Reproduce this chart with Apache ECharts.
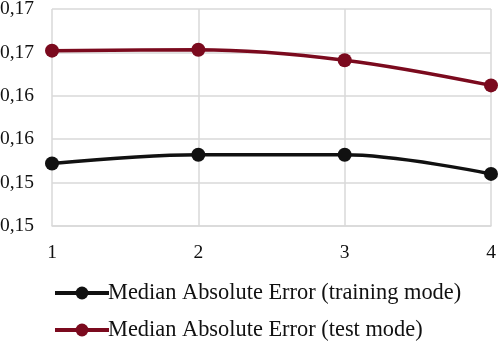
<!DOCTYPE html>
<html><head><meta charset="utf-8">
<script src="https://cdn.jsdelivr.net/npm/echarts@6/dist/echarts.min.js"></script>
<style>html,body{margin:0;padding:0;background:#fff}#c{width:498px;height:341px}</style>
</head><body><div id="c"></div>
<script>
const categories = ["1", "2", "3", "4"];
const trainingValues = [0.1522, 0.1532, 0.1532, 0.1510];
const testValues = [0.1652, 0.1653, 0.1641, 0.1612];
const yTickLabels = ["0,15", "0,15", "0,16", "0,16", "0,17", "0,17"];
const seriesNames = ["Median Absolute Error (training mode)", "Median Absolute Error (test mode)"];

const font = "'Liberation Serif', 'Times New Roman', serif";
const chart = echarts.init(document.getElementById('c'));
const legendBase = {
  left: 48, itemWidth: 54, itemHeight: 16,
  lineStyle: { width: 4 },
  textStyle: { fontSize: 22.4, fontFamily: font, color: '#111', padding: [0, 0, 0, -6] }
};
chart.setOption({
  animation: false,
  textStyle: { fontFamily: font },
  grid: { left: 52, right: 7, top: 9, bottom: 115, containLabel: false, outerBoundsMode: 'none' },
  xAxis: {
    type: 'category', data: categories, boundaryGap: false,
    axisLine: { lineStyle: { color: '#d9d9d9', width: 1.5 } },
    axisTick: { show: false },
    splitLine: { show: true, lineStyle: { color: '#d9d9d9', width: 1.5 } },
    axisLabel: { color: '#111', fontSize: 19.5, fontFamily: font, margin: 17 }
  },
  yAxis: {
    type: 'value', min: 0.145, max: 0.17, interval: 0.005,
    axisLine: { show: false }, axisTick: { show: false },
    splitLine: { lineStyle: { color: '#d9d9d9', width: 1.5 } },
    axisLabel: { color: '#111', fontSize: 19.5, fontFamily: font, margin: 18,
      formatter: (v, i) => yTickLabels[i] }
  },
  legend: [
    Object.assign({ top: 277, data: [seriesNames[0]] }, legendBase),
    Object.assign({ top: 314, data: [seriesNames[1]] }, legendBase)
  ],
  series: [
    { name: seriesNames[0], type: 'line', smooth: 0.35, data: trainingValues,
      symbol: 'circle', symbolSize: 14,
      lineStyle: { color: '#111', width: 3.5 }, itemStyle: { color: '#111' } },
    { name: seriesNames[1], type: 'line', smooth: 0.35, data: testValues,
      symbol: 'circle', symbolSize: 14,
      lineStyle: { color: '#7b0a1e', width: 3.5 }, itemStyle: { color: '#7b0a1e' } }
  ]
});
</script></body></html>
